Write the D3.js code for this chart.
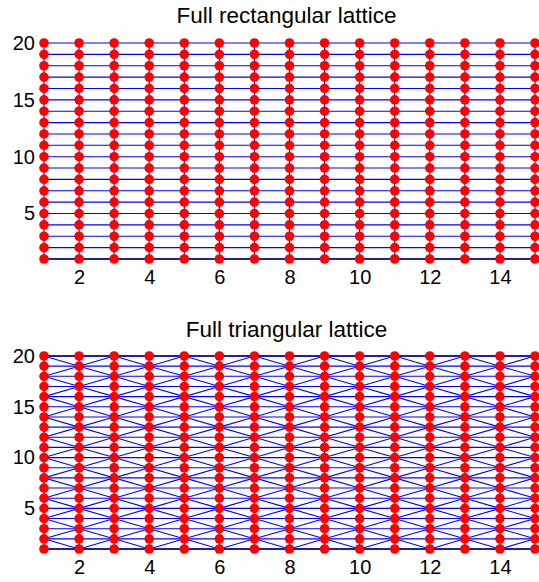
<!DOCTYPE html>
<html><head><meta charset="utf-8">
<script src="https://cdn.jsdelivr.net/npm/d3@7"></script>
<style>
html,body{margin:0;padding:0;background:#fff;}
svg{display:block;}
text{font-family:"Liberation Sans",Arial,Helvetica,sans-serif;fill:#000;}
</style></head>
<body>
<svg id="chart" width="539" height="582"></svg>
<script>
// Lattice node coordinates
const columns = [1,2,3,4,5,6,7,8,9,10,11,12,13,14,15];
const rows = [1,2,3,4,5,6,7,8,9,10,11,12,13,14,15,16,17,18,19,20];
// Tick labels
const xTicks = [2,4,6,8,10,12,14];
const yTicks = [5,10,15,20];
// Panel titles
const titles = ["Full rectangular lattice","Full triangular lattice"];

const svg = d3.select("#chart");

function buildEdges(triangular){
  const edges = [];
  const maxC = d3.max(columns), maxR = d3.max(rows);
  columns.forEach(i => rows.forEach(j => {
    if (i < maxC) edges.push([[i,j],[i+1,j]]);
    if (j < maxR) edges.push([[i,j],[i,j+1]]);
    if (triangular && i < maxC && j < maxR) {
      // one diagonal per cell, alternating in a checkerboard
      if ((i + j) % 2 === 1) edges.push([[i,j],[i+1,j+1]]);
      else edges.push([[i,j+1],[i+1,j]]);
    }
  }));
  return edges;
}

function drawPanel(cfg){
  const x = d3.scaleLinear().domain([1,15]).range([44,535]);
  const y = d3.scaleLinear().domain([1,20]).range([cfg.bottom,cfg.top]);
  const g = svg.append("g");

  const edges = buildEdges(cfg.triangular);
  g.append("g").selectAll("line").data(edges).join("line")
    .attr("x1",d=>x(d[0][0])).attr("y1",d=>y(d[0][1]))
    .attr("x2",d=>x(d[1][0])).attr("y2",d=>y(d[1][1]))
    .attr("stroke","#0000ff").attr("stroke-width",1.1);

  cfg.darkEdges.forEach(v => {
    g.append("line").attr("x1",x(1)).attr("x2",x(15))
      .attr("y1",y(v)).attr("y2",y(v))
      .attr("stroke","#00008b").attr("stroke-width",1.6);
  });

  const nodes = [];
  columns.forEach(i => rows.forEach(j => nodes.push([i,j])));
  g.append("g").selectAll("circle").data(nodes).join("circle")
    .attr("cx",d=>x(d[0])).attr("cy",d=>y(d[1])).attr("r",4.8)
    .attr("fill","#ff0000");

  const ya = d3.axisLeft(y).tickValues(yTicks).tickSize(0).tickPadding(9);
  const yg = g.append("g").attr("transform",`translate(${x(1)},0)`).call(ya);
  yg.select(".domain").remove();
  yg.selectAll("text").attr("font-size",20).style("font-family","'Liberation Sans',Arial,sans-serif");

  const xa = d3.axisBottom(x).tickValues(xTicks).tickSize(0).tickPadding(11);
  const xg = g.append("g").attr("transform",`translate(0,${cfg.bottom})`).call(xa);
  xg.select(".domain").remove();
  xg.selectAll("text").attr("font-size",20).style("font-family","'Liberation Sans',Arial,sans-serif");

  g.append("text").attr("x",(x(1)+x(15))/2 - 3).attr("y",cfg.titleY)
    .attr("text-anchor","middle").attr("font-size",22.5).text(cfg.title);
}

drawPanel({top:43,bottom:259,triangular:false,title:titles[0],titleY:23,darkEdges:[1]});
drawPanel({top:356,bottom:549,triangular:true,title:titles[1],titleY:337,darkEdges:[1,20]});
</script>
</body></html>
